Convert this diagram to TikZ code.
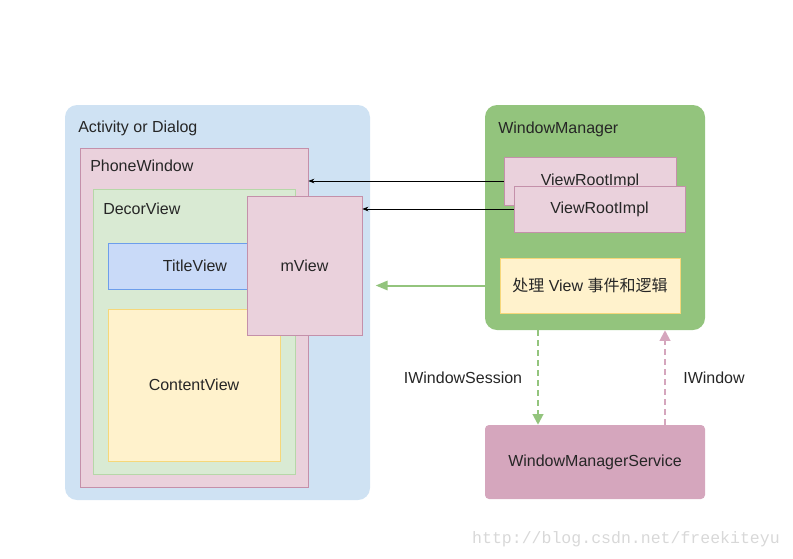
\documentclass[tikz,border=0pt]{standalone}
\usepackage{fontspec}
\setmainfont{Liberation Sans}
\newfontfamily\cjk{Noto Sans CJK SC}
\newfontfamily\wmark{Liberation Mono}
\usepackage{xcolor}
\usetikzlibrary{fit,arrows.meta}

\definecolor{actblue}{HTML}{CFE2F3}
\definecolor{pinkfill}{HTML}{EAD1DC}
\definecolor{pinkline}{HTML}{C490AA}
\definecolor{greenfill}{HTML}{D9EAD3}
\definecolor{greenline}{HTML}{B6D7A8}
\definecolor{bluefill}{HTML}{C9DAF8}
\definecolor{blueline}{HTML}{6D9EEB}
\definecolor{yellowfill}{HTML}{FFF2CC}
\definecolor{yellowline}{HTML}{F6D77A}
\definecolor{wmgreen}{HTML}{93C47D}
\definecolor{wmspink}{HTML}{D5A6BD}
\definecolor{marktext}{HTML}{D8D8D8}

\begin{document}
\begin{tikzpicture}[x=0.75pt, y=-0.75pt,
    every node/.style={font=\fontsize{12}{14}\selectfont, text=black!85},
    area/.style={inner sep=0pt, rounded corners=9pt},
    panel/.style={draw, inner sep=0pt, line width=0.6pt},
    title/.style={anchor=west, inner sep=0pt},
    callarrow/.style={-{Stealth[length=4.5pt, width=3.5pt]}, line width=0.5pt},
    ipc/.style={line width=1.5pt, dash pattern=on 4.5pt off 3pt, -{Triangle[length=8pt, width=8pt]}}]

    \useasboundingbox (0,0) rectangle (793,558);

    % app side
    \node[area, fill=actblue, fit={(65,105) (370,500)}] (act) {};
    \node[title] (acttxt) at (78,128) {Activity or Dialog};
    \node[panel, fill=pinkfill, draw=pinkline, fit={(80,148) (308,487)}] (phone) {};
    \node[title] (phonetxt) at (90,166) {PhoneWindow};
    \node[panel, fill=greenfill, draw=greenline, fit={(93,189) (295,474)}] (decor) {};
    \node[title] (decortxt) at (103,209) {DecorView};
    \node[panel, fill=bluefill, draw=blueline, fit={(108,243) (258,289)}] (titleview) {};
    \node (titletxt) at (195,266) {TitleView};
    \node[panel, fill=yellowfill, draw=yellowline, fit={(108,309) (280,461)},
        label={[name=contenttxt]center:ContentView}] (content) {};
    \node[panel, fill=pinkfill, draw=pinkline, fit={(247,196) (362,335)},
        label={[name=mviewtxt]center:mView}] (mview) {};

    % window manager side
    \node[area, fill=wmgreen, fit={(485,105) (705,330)}] (wm) {};
    \node[title] (wmtxt) at (498,129) {WindowManager};
    \node[panel, fill=pinkfill, draw=pinkline, fit={(504,157) (676,205)},
        label={[name=vri1txt]center:ViewRootImpl}] (vri1) {};
    \node[panel, fill=pinkfill, draw=pinkline, fit={(514,186) (685,232)},
        label={[name=vri2txt]center:ViewRootImpl}] (vri2) {};
    \node[panel, fill=yellowfill, draw=yellowline, fit={(500,258) (680,313)},
        label={[name=handletxt]center:{\cjk 处理} View {\cjk 事件和逻辑}}] (handle) {};

    \node[area, rounded corners=3pt, fill=wmspink, fit={(485,425) (705,499)},
        label={[name=wmstxt]center:WindowManagerService}] (wms) {};

    \draw[callarrow] (vri1.west) -- (vri1.west -| phone.east);
    \draw[callarrow] (vri2.west) -- (vri2.west -| mview.east);
    \draw[wmgreen, line width=1.5pt, -{Triangle[length=9pt, width=7pt]}]
        (handle.west -| wm.west) -- ([xshift=4pt]handle.west -| act.east);

    \draw[ipc, wmgreen] ([xshift=-42.75pt]wm.south) -- ([xshift=-42.75pt]wms.north);
    \draw[ipc, wmspink] ([xshift=52.5pt]wms.north) -- ([xshift=52.5pt]wm.south);
    \node (sessiontxt) at (463,378) {IWindowSession};
    \node (windowtxt) at (714,378) {IWindow};

    \node[font=\wmark\fontsize{12.4}{14}\selectfont, text=marktext] (mark) at (626,539) {http://blog.csdn.net/freekiteyu};
\end{tikzpicture}
\end{document}
